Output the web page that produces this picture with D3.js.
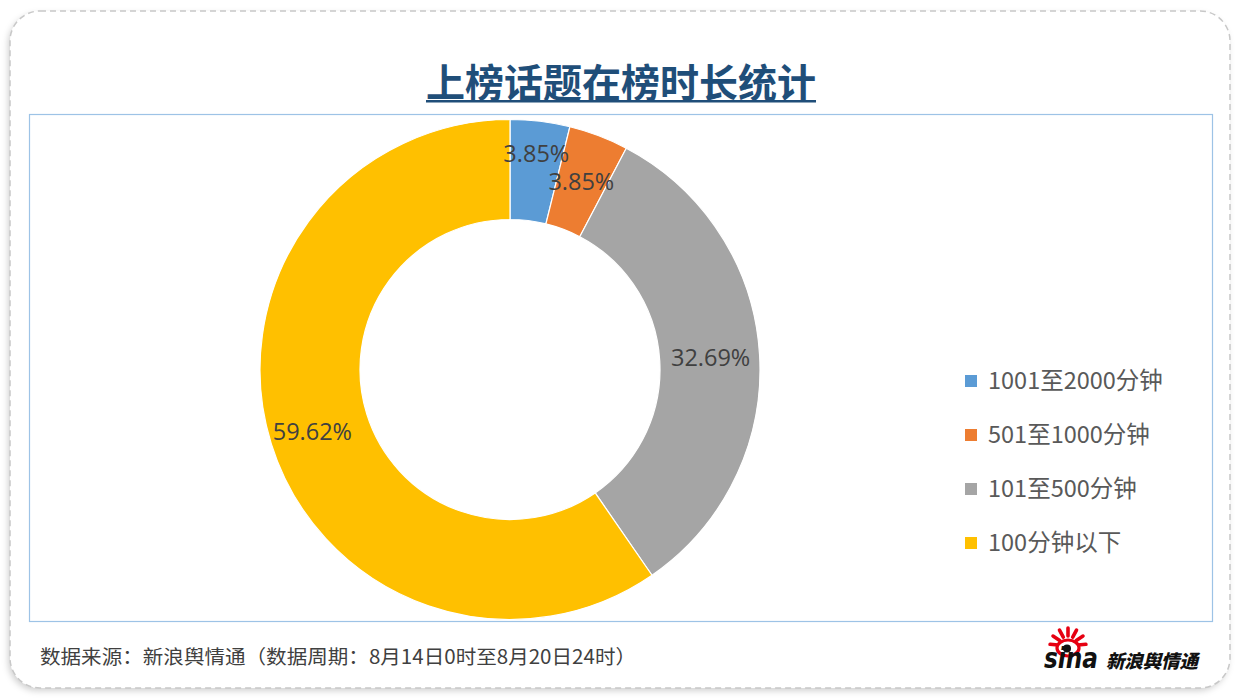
<!DOCTYPE html>
<html><head><meta charset="utf-8">
<script src="https://cdn.jsdelivr.net/npm/d3@7"></script>
<style>
html,body{margin:0;padding:0;background:#fff;}
svg{display:block;font-family:"Noto Sans CJK SC","Noto Sans",sans-serif;}
</style></head>
<body>
<svg id="chart" width="1242" height="699"></svg>
<script>
const categories = ["1001至2000分钟", "501至1000分钟", "101至500分钟", "100分钟以下"];
const values = [3.85, 3.85, 32.69, 59.62];
const labels = ["3.85%", "3.85%", "32.69%", "59.62%"];
const colors = ["#5b9bd5", "#ed7d31", "#a5a5a5", "#ffc000"];
const titleText = "上榜话题在榜时长统计";
const sourceText = "数据来源：新浪舆情通（数据周期：8月14日0时至8月20日24时）";

const svg = d3.select("#chart");

// shadow filter
const defs = svg.append("defs");
const f = defs.append("filter").attr("id","sh").attr("x","-5%").attr("y","-5%").attr("width","110%").attr("height","112%");
f.append("feDropShadow").attr("dx",-2).attr("dy",3).attr("stdDeviation",3).attr("flood-color","#000").attr("flood-opacity",0.18);

// outer card
svg.append("rect").attr("x",10).attr("y",11).attr("width",1220).attr("height",677)
  .attr("rx",30).attr("ry",30).attr("fill","#fff").attr("filter","url(#sh)");
svg.append("rect").attr("x",10).attr("y",11).attr("width",1220).attr("height",677)
  .attr("rx",30).attr("ry",30).attr("fill","none").attr("stroke","#c8c8c8")
  .attr("stroke-width",1.5).attr("stroke-dasharray","6,4");

// title
const title = svg.append("text").attr("x",621).attr("y",97).attr("text-anchor","middle")
  .attr("font-size",39).attr("font-weight",700).attr("fill","#1f4e79").text(titleText);
const tw = title.node().getComputedTextLength();
svg.append("rect").attr("x",621-tw/2).attr("y",100).attr("width",tw).attr("height",2.5).attr("fill","#1f4e79");

// plot area box
svg.append("rect").attr("x",29.5).attr("y",114.5).attr("width",1183).attr("height",507)
  .attr("fill","#fff").attr("stroke","#9dc3e6").attr("stroke-width",1.2);

// donut
const cx = 510, cy = 369.5, R = 250, r0 = 150;
const pie = d3.pie().sort(null).value(d => d)(values);
const arc = d3.arc().innerRadius(r0).outerRadius(R);
const g = svg.append("g").attr("transform",`translate(${cx},${cy})`);
g.selectAll("path").data(pie).join("path")
  .attr("d",arc).attr("fill",(d,i)=>colors[i]).attr("stroke","#fff").attr("stroke-width",1.2);

const labelR = [218, 201, 201, 207];
g.selectAll("text.lbl").data(pie).join("text").attr("class","lbl")
  .attr("x",(d,i)=>{const a=(d.startAngle+d.endAngle)/2; return Math.sin(a)*labelR[i];})
  .attr("y",(d,i)=>{const a=(d.startAngle+d.endAngle)/2; return -Math.cos(a)*labelR[i];})
  .attr("dy","0.36em").attr("text-anchor","middle")
  .attr("font-size",23.5).attr("fill","#404040")
  .attr("font-family","'Open Sans','Noto Sans',sans-serif")
  .text((d,i)=>labels[i]);

// legend
const lg = svg.append("g");
const ly = d3.scaleBand().domain(categories).range([354,570]);
categories.forEach((c,i)=>{
  const y = ly(c) + ly.bandwidth()/2;
  lg.append("rect").attr("x",965).attr("y",y-6).attr("width",12).attr("height",12).attr("fill",colors[i]);
  lg.append("text").attr("x",988).attr("y",y).attr("dy","0.36em")
    .attr("font-size",23.5).attr("fill","#595959").text(c);
});

// footer
svg.append("text").attr("x",40).attr("y",664).attr("font-size",19.5).attr("fill","#404040")
  .attr("textLength",596).attr("lengthAdjust","spacingAndGlyphs").text(sourceText);

// sina logo
const logo = svg.append("g");
const eyeC = [1068, 646];
d3.range(7).forEach(k=>{
  const a = -Math.PI*0.97 + k*(Math.PI*0.94/6);
  logo.append("path").attr("d",
    `M${eyeC[0]+Math.cos(a)*10},${eyeC[1]+Math.sin(a)*10} L${eyeC[0]+Math.cos(a)*18},${eyeC[1]+Math.sin(a)*18}`)
    .attr("stroke","#e60012").attr("stroke-width",3.6).attr("stroke-linecap","round");
});
logo.append("ellipse").attr("cx",eyeC[0]).attr("cy",eyeC[1]+2).attr("rx",11).attr("ry",8)
  .attr("fill","#fff").attr("stroke","#e60012").attr("stroke-width",3.2);
logo.append("circle").attr("cx",eyeC[0]-1).attr("cy",eyeC[1]+2.5).attr("r",4).attr("fill","#111");
logo.append("text").attr("x",1044).attr("y",668).attr("font-size",28).attr("font-weight",900)
  .attr("font-style","italic").attr("fill","#111").attr("font-family","'DejaVu Sans',sans-serif")
  .attr("textLength",54).attr("lengthAdjust","spacingAndGlyphs").text("sina");
logo.append("text").attr("x",1106).attr("y",668).attr("font-size",18.5).attr("font-weight",900)
  .attr("font-style","italic").attr("fill","#111").attr("textLength",92).text("新浪舆情通");
</script>
</body></html>
